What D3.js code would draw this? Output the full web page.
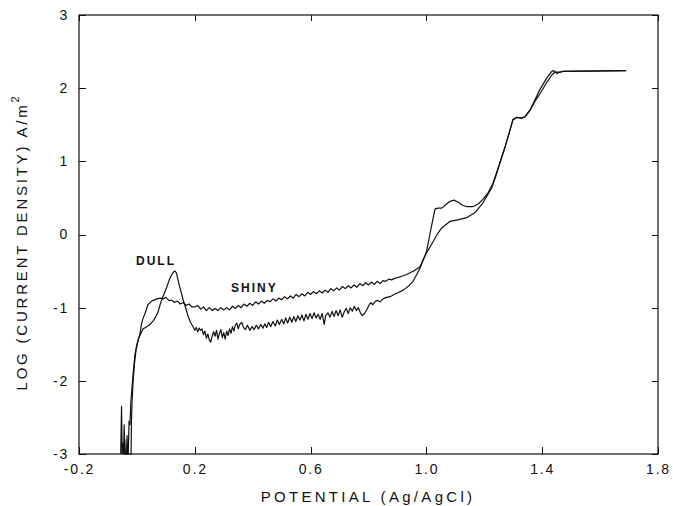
<!DOCTYPE html>
<html>
<head>
	<script src="https://cdnjs.cloudflare.com/ajax/libs/d3/7.8.5/d3.min.js"></script>
	<style>
		body { margin: 0; background: white; }
		text { font-family: "Liberation Sans", Arial, sans-serif; fill: #111; }
		.tick text { font-size: 14px; letter-spacing: 1.8px; }
		.axis path, .axis line { stroke: #111; shape-rendering: crispEdges; }
		.curve { fill: none; stroke: #111; stroke-width: 1.2; stroke-linejoin: round; }
	</style>
</head>
<body>
<svg id="main" width="673" height="506"></svg>
<script>

	// potential (V vs Ag/AgCl), log current density (A/m2)
	var dull = [
		[-0.056,-3.0],[-0.053,-2.35],[-0.051,-3.0],[-0.047,-2.85],[-0.045,-3.0],[-0.042,-2.8],[-0.040,-3.0],
		[-0.030,-3.0],[-0.027,-2.55],[-0.024,-2.6],[-0.021,-2.3],[-0.017,-2.1],[-0.013,-1.9],[-0.007,-1.65],
		[0.000,-1.5],[0.008,-1.4],[0.014,-1.35],[0.021,-1.29],[0.030,-1.27],[0.045,-1.23],[0.056,-1.18],
		[0.063,-1.14],[0.073,-1.06],[0.080,-0.96],[0.087,-0.88],[0.095,-0.8],[0.103,-0.72],[0.112,-0.62],
		[0.120,-0.55],[0.127,-0.51],[0.132,-0.5],[0.137,-0.53],[0.142,-0.62],[0.148,-0.72],[0.155,-0.82],
		[0.160,-0.9],[0.166,-0.97],[0.172,-1.05],[0.177,-1.12],[0.185,-1.2],[0.194,-1.26],[0.200,-1.31],
		[0.205,-1.27],[0.210,-1.33],[0.215,-1.28],[0.220,-1.31],[0.225,-1.29],[0.230,-1.37],[0.235,-1.32],
		[0.240,-1.42],[0.245,-1.36],[0.250,-1.44],[0.255,-1.47],[0.260,-1.39],[0.265,-1.33],[0.270,-1.39],
		[0.275,-1.31],[0.280,-1.43],[0.285,-1.35],[0.290,-1.3],[0.295,-1.41],[0.300,-1.34],[0.305,-1.43],
		[0.310,-1.32],[0.315,-1.38],[0.320,-1.29],[0.325,-1.35],[0.330,-1.26],[0.335,-1.32],[0.340,-1.24],
		[0.345,-1.21],[0.350,-1.29],[0.355,-1.23],[0.362,-1.2],[0.368,-1.27],[0.375,-1.3],[0.382,-1.24],
		[0.390,-1.31],[0.398,-1.26],[0.405,-1.3],[0.412,-1.24],[0.420,-1.29],[0.428,-1.23],[0.435,-1.28],
		[0.442,-1.22],[0.448,-1.27],[0.455,-1.2],[0.462,-1.26],[0.470,-1.19],[0.478,-1.25],[0.485,-1.17],
		[0.492,-1.23],[0.500,-1.16],[0.507,-1.22],[0.514,-1.14],[0.521,-1.21],[0.528,-1.13],[0.535,-1.2],
		[0.542,-1.12],[0.549,-1.19],[0.556,-1.11],[0.563,-1.17],[0.570,-1.1],[0.577,-1.18],[0.584,-1.09],
		[0.591,-1.16],[0.598,-1.08],[0.605,-1.15],[0.612,-1.07],[0.619,-1.14],[0.626,-1.09],[0.633,-1.16],
		[0.640,-1.08],[0.647,-1.23],[0.652,-1.11],[0.660,-1.07],[0.667,-1.13],[0.674,-1.05],[0.681,-1.12],
		[0.688,-1.04],[0.695,-1.11],[0.702,-1.03],[0.709,-1.13],[0.716,-1.06],[0.723,-1.01],[0.730,-1.08],
		[0.737,-1.0],[0.744,-1.05],[0.751,-0.98],[0.758,-1.04],[0.765,-1.0],[0.772,-1.07],[0.779,-1.11],
		[0.786,-1.08],[0.794,-1.03],[0.801,-0.97],[0.808,-0.93],[0.815,-0.96],[0.822,-0.92],[0.830,-0.9],
		[0.840,-0.92],[0.850,-0.88],[0.862,-0.86],[0.875,-0.85],[0.888,-0.82],[0.900,-0.8],[0.920,-0.76],
		[0.940,-0.7],[0.954,-0.64],[0.966,-0.55],[0.978,-0.46],[0.988,-0.36],[1.000,-0.24],[1.012,0.0],
		[1.022,0.2],[1.030,0.35],[1.040,0.36],[1.053,0.36],[1.065,0.4],[1.080,0.45],[1.095,0.47],
		[1.110,0.44],[1.125,0.4],[1.140,0.38],[1.160,0.38],[1.180,0.42],[1.195,0.48],[1.213,0.57],
		[1.230,0.7],[1.242,0.84],[1.254,0.98],[1.272,1.2],[1.289,1.43],[1.299,1.57],[1.312,1.6],
		[1.329,1.59],[1.341,1.61],[1.358,1.7],[1.375,1.84],[1.392,1.98],[1.416,2.14],[1.433,2.23],
		[1.440,2.24],[1.451,2.2],[1.462,2.22],[1.472,2.23],[1.690,2.24]
	];

	var shiny = [
		[-0.046,-3.0],[-0.044,-2.6],[-0.042,-3.0],[-0.036,-3.0],[-0.034,-2.75],[-0.032,-3.0],
		[-0.020,-3.0],[-0.019,-2.6],[-0.017,-2.3],[-0.013,-2.0],[-0.008,-1.75],[-0.003,-1.58],
		[0.004,-1.45],[0.011,-1.35],[0.016,-1.22],[0.021,-1.15],[0.028,-1.08],[0.038,-0.96],
		[0.048,-0.92],[0.056,-0.9],[0.070,-0.88],[0.080,-0.87],[0.090,-0.88],[0.100,-0.86],
		[0.110,-0.9],[0.120,-0.9],[0.130,-0.93],[0.140,-0.91],[0.150,-0.95],[0.160,-0.93],
		[0.170,-0.97],[0.180,-0.95],[0.190,-0.99],[0.200,-0.99],[0.210,-0.97],[0.220,-1.02],
		[0.230,-0.99],[0.240,-1.04],[0.250,-1.0],[0.260,-1.04],[0.270,-1.01],[0.280,-1.04],
		[0.290,-1.0],[0.300,-1.03],[0.310,-1.0],[0.320,-1.03],[0.330,-0.98],[0.340,-1.01],
		[0.350,-0.97],[0.360,-1.0],[0.370,-0.95],[0.380,-0.98],[0.390,-0.94],[0.400,-0.97],
		[0.410,-0.92],[0.420,-0.95],[0.430,-0.91],[0.440,-0.94],[0.450,-0.9],[0.460,-0.92],
		[0.470,-0.88],[0.480,-0.91],[0.490,-0.87],[0.500,-0.89],[0.510,-0.85],[0.520,-0.88],
		[0.530,-0.84],[0.540,-0.87],[0.550,-0.82],[0.560,-0.85],[0.570,-0.81],[0.580,-0.84],
		[0.590,-0.79],[0.600,-0.82],[0.610,-0.78],[0.620,-0.81],[0.630,-0.77],[0.640,-0.8],
		[0.650,-0.76],[0.660,-0.79],[0.670,-0.74],[0.680,-0.77],[0.690,-0.73],[0.700,-0.76],
		[0.710,-0.71],[0.720,-0.74],[0.730,-0.7],[0.740,-0.73],[0.750,-0.69],[0.760,-0.72],
		[0.770,-0.67],[0.780,-0.7],[0.790,-0.66],[0.800,-0.69],[0.810,-0.65],[0.820,-0.68],
		[0.830,-0.64],[0.840,-0.67],[0.850,-0.63],[0.860,-0.64],[0.870,-0.61],[0.880,-0.62],
		[0.890,-0.6],[0.900,-0.59],[0.915,-0.57],[0.930,-0.55],[0.945,-0.52],[0.960,-0.49],
		[0.978,-0.44],[0.988,-0.35],[1.005,-0.22],[1.023,-0.1],[1.040,0.02],[1.053,0.09],
		[1.082,0.18],[1.109,0.2],[1.139,0.23],[1.168,0.3],[1.195,0.43],[1.226,0.64],
		[1.240,0.8],[1.254,0.98],[1.272,1.2],[1.289,1.43],[1.299,1.57],[1.312,1.6],
		[1.329,1.59],[1.341,1.61],[1.358,1.7],[1.375,1.82],[1.392,1.92],[1.416,2.08],
		[1.433,2.18],[1.445,2.22],[1.460,2.22],[1.472,2.23],[1.690,2.24]
	];

	var xTicks = [-0.2, 0.2, 0.6, 1.0, 1.4, 1.8];
	var xTickLabels = ["-0.2", "0.2", "0.6", "1.0", "1.4", "1.8"];
	var yTicks = [-3, -2, -1, 0, 1, 2, 3];
	var yTickLabels = ["-3", "-2", "-1", "0", "1", "2", "3"];

	var plotLeft = 79, plotTop = 15, plotRight = 658, plotBottom = 454;

	var svg = d3.select('#main');

	var x = d3.scaleLinear().domain([-0.2, 1.8]).range([plotLeft, plotRight]);
	var y = d3.scaleLinear().domain([-3, 3]).range([plotBottom, plotTop]);

	// frame
	svg.append('rect')
		.attr('x', plotLeft).attr('y', plotTop)
		.attr('width', plotRight - plotLeft).attr('height', plotBottom - plotTop)
		.attr('fill', 'none').attr('stroke', '#111').attr('stroke-width', 1.2);

	var xAxis = d3.axisBottom(x).tickValues(xTicks).tickSizeInner(-7).tickSizeOuter(0).tickPadding(10)
		.tickFormat(function(d, i) { return xTickLabels[i]; });
	svg.append('g').attr('class', 'axis').attr('transform', 'translate(0,' + plotBottom + ')').call(xAxis);

	svg.append('g').attr('class', 'axis').attr('transform', 'translate(0,' + plotTop + ')')
		.call(d3.axisTop(x).tickValues(xTicks).tickSizeInner(-6).tickSizeOuter(0).tickFormat(''));

	var yAxis = d3.axisLeft(y).tickValues(yTicks).tickSizeInner(-7).tickSizeOuter(0).tickPadding(10)
		.tickFormat(function(d, i) { return yTickLabels[i]; });
	svg.append('g').attr('class', 'axis').attr('transform', 'translate(' + plotLeft + ',0)').call(yAxis);

	svg.append('g').attr('class', 'axis').attr('transform', 'translate(' + plotRight + ',0)')
		.call(d3.axisRight(y).tickValues(yTicks).tickSizeInner(-6).tickSizeOuter(0).tickFormat(''));

	svg.selectAll('.axis .domain').remove();

	var line = d3.line()
		.x(function(d) { return x(d[0]); })
		.y(function(d) { return y(d[1]); });

	svg.append('path').datum(dull).attr('class', 'curve').attr('d', line);
	svg.append('path').datum(shiny).attr('class', 'curve').attr('d', line);

	// curve labels
	svg.append('text').attr('x', 136).attr('y', 265)
		.style('font-size', '12px').style('font-weight', 'bold').style('letter-spacing', '2px')
		.text('DULL');
	svg.append('text').attr('x', 231).attr('y', 292)
		.style('font-size', '12px').style('font-weight', 'bold').style('letter-spacing', '2px')
		.text('SHINY');

	// axis titles
	svg.append('text').attr('x', 368).attr('y', 502).attr('text-anchor', 'middle')
		.style('font-size', '15px').style('letter-spacing', '3.3px')
		.text('POTENTIAL (Ag/AgCl)');

	var yt = svg.append('text').attr('text-anchor', 'middle')
		.attr('transform', 'translate(27,242) rotate(-90)')
		.style('font-size', '15px').style('letter-spacing', '2.8px');
	yt.append('tspan').text('LOG (CURRENT DENSITY) A/m');
	yt.append('tspan').attr('dy', -8).style('font-size', '11px').text('2');

</script>
</body>
</html>
